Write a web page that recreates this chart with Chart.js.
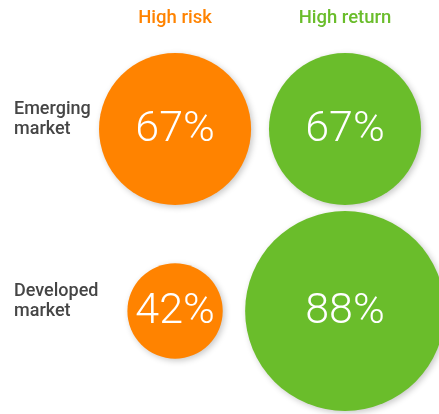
<!DOCTYPE html>
<html>
<head>
<meta charset="utf-8">
<script src="https://cdn.jsdelivr.net/npm/chart.js@4.4.1/dist/chart.umd.min.js"></script>
<style>
  html, body { margin: 0; padding: 0; background: #fff; }
  #wrap { width: 439px; height: 414px; }
</style>
</head>
<body>
<div id="wrap"><canvas id="riskChart" width="439" height="414"></canvas></div>
<script>
const columns = ["High risk", "High return"];
const rows = [["Emerging", "market"], ["Developed", "market"]];
const riskValues = [67, 42];
const returnValues = [67, 88];

const ORANGE = "#FF8300";
const GREEN = "#6ABD2B";
const RADIUS_PER_POINT = 1.135;

function toBubbles(values, col) {
    return values.map((v, row) => ({ x: col, y: row, r: v * RADIUS_PER_POINT, v: v }));
}

// header, row labels and the percentages inside the circles
const labelPlugin = {
    id: "labels",
    beforeDatasetsDraw(chart) {
        const ctx = chart.ctx;
        ctx.save();
        ctx.shadowColor = "rgba(0,0,0,0.22)";
        ctx.shadowBlur = 6;
        ctx.shadowOffsetX = 2;
        ctx.shadowOffsetY = 2;
    },
    afterDatasetsDraw(chart) {
        const ctx = chart.ctx;
        ctx.restore();
        const xs = chart.scales.x;
        const ys = chart.scales.y;

        ctx.save();
        ctx.textAlign = "center";
        ctx.textBaseline = "middle";
        ctx.font = "500 18.5px Roboto, 'Liberation Sans', sans-serif";
        columns.forEach((c, i) => {
            ctx.fillStyle = i === 0 ? ORANGE : GREEN;
            ctx.fillText(c, xs.getPixelForValue(i), 18);
        });

        ctx.textAlign = "left";
        ctx.fillStyle = "#454545";
        ctx.font = "500 18px Roboto, 'Liberation Sans', sans-serif";
        rows.forEach((lines, i) => {
            const cy = ys.getPixelForValue(i) - 10;
            lines.forEach((t, j) => ctx.fillText(t, 14, cy + (j - 0.5) * 20));
        });

        ctx.textAlign = "center";
        ctx.fillStyle = "#fff";
        ctx.font = "300 43px Roboto, 'Open Sans', sans-serif";
        chart.data.datasets.forEach((ds, di) => {
            chart.getDatasetMeta(di).data.forEach((el, i) => {
                ctx.fillText(ds.data[i].v + "%", el.x, el.y + 1);
            });
        });
        ctx.restore();
    }
};

new Chart(document.getElementById("riskChart").getContext("2d"), {
    type: "bubble",
    data: {
        datasets: [
            { label: columns[0], data: toBubbles(riskValues, 0), backgroundColor: ORANGE, borderWidth: 0, clip: false },
            { label: columns[1], data: toBubbles(returnValues, 1), backgroundColor: GREEN, borderWidth: 0, clip: false }
        ]
    },
    options: {
        responsive: false,
        animation: false,
        events: [],
        layout: { padding: 0, autoPadding: false },
        plugins: { legend: { display: false }, tooltip: { enabled: false } },
        scales: {
            x: { type: "linear", display: false, min: -1.03, max: 1.553 },
            y: { type: "linear", display: false, reverse: true, min: -0.709, max: 1.566 }
        }
    },
    plugins: [labelPlugin]
});
</script>
</body>
</html>
